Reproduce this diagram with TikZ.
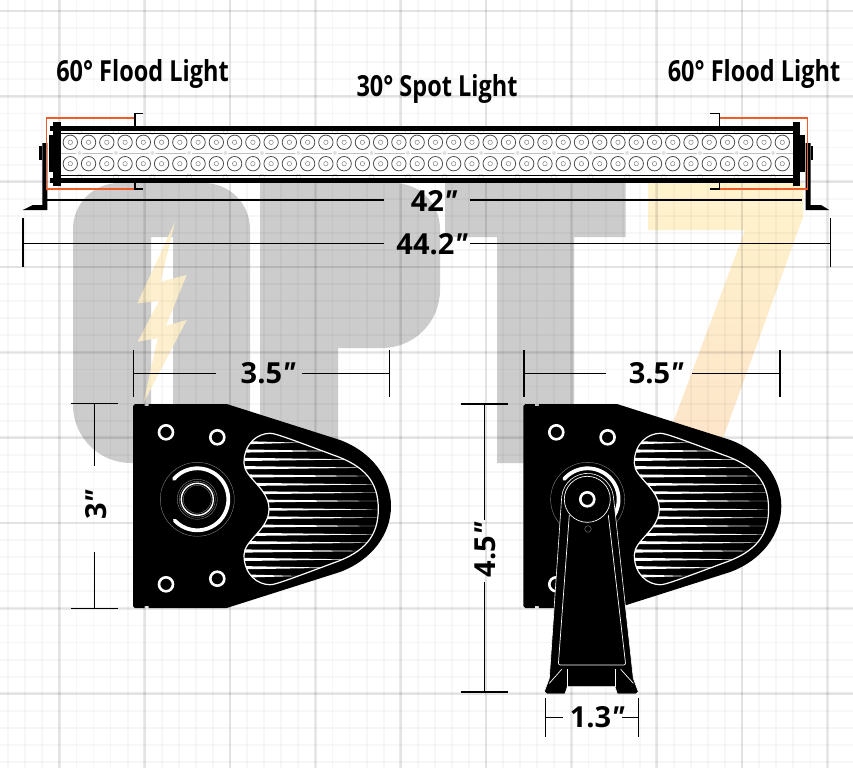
\documentclass[tikz,border=0pt]{standalone}
\usepackage{fontspec}
\setmainfont{Open Sans}
\newfontfamily\headfont[FakeStretch=0.81]{Open Sans}
\definecolor{logogray}{HTML}{CCCCCC}
\definecolor{beamred}{HTML}{F15A29}
\definecolor{boltcream}{HTML}{FEEFC8}
\definecolor{seventop}{HTML}{FFF3CC}
\definecolor{sevenlow}{HTML}{FDE4CA}
\newcommand{\inch}{{\itshape ″}}
\tikzset{
  headlabel/.style={font=\headfont\bfseries\fontsize{29}{30}\selectfont, inner sep=0pt},
  sizelabel/.style={font=\bfseries\fontsize{29}{30}\selectfont, inner sep=0pt},
  sizeline/.style={black, line width=1.2pt},
  beamline/.style={beamred, line width=1.5pt},
  ring/.style={white, line width=2.6pt, fill=black},
  hairline/.style={gray, line width=0.4pt},
  plate/.pic={
    % plate outline
    \fill[black] (135,404) -- (144.5,404) -- (144.5,406) -- (148.5,406) -- (148.5,404) -- (226.7,404) -- (340,440)
      .. controls (372,452) and (391,478) .. (391,506)
      .. controls (391,534) and (372,560) .. (340,572)
      -- (226.7,608) -- (148.5,608) -- (148.5,606) -- (144.5,606) -- (144.5,608) -- (135,608)
      -- (133,606) -- (133,406) -- cycle;
    % mounting holes
    \draw[ring] (166,432.3) circle (7pt);
    \draw[ring] (217.3,437.3) circle (7pt);
    \draw[ring] (166,584.3) circle (7pt);
    \draw[ring] (217.3,578.7) circle (7pt);
    % slot and hub
    \draw[hairline] (197.3,499.3) circle (37pt);
    \draw[white, line width=3.8pt, line cap=round] (197.3,499.3) ++(139:31pt) arc[start angle=139, end angle=-137, radius=31pt];
    \draw[hairline] (197.3,499.3) circle (20pt);
    \draw[hairline] (197.3,499.3) circle (18pt);
    \draw[white, line width=1.4pt] (197.3,499.3) circle (16pt);
    \draw[hairline] (197.3,499.3) circle (14pt);
    % fins
    \begin{scope}
      \clip (270,433.3) .. controls (275,433.3) and (285,437) .. (333.3,455)
        .. controls (365,466) and (378.3,482) .. (378.3,509)
        .. controls (378.3,536) and (365,552) .. (333.3,563)
        .. controls (285,581) and (275,584.7) .. (270,584.7)
        .. controls (258,584.7) and (244,575) .. (244,555)
        .. controls (244,540) and (269,530) .. (269,509)
        .. controls (269,488) and (244,478) .. (244,463)
        .. controls (244,443) and (258,433.3) .. (270,433.3) -- cycle;
      \foreach \fy/\fx in {442.7/300,451/335,459.4/355,467.7/372,476/378,484.4/380,492.7/380,501/380,509.4/380,517.7/380,526/380,534.4/380,542.7/378,551/372,559.4/355,567.7/335,576/300}
        \fill[white] (244,\fy-1.6) -- (\fx,\fy) -- (244,\fy+1.6) -- cycle;
    \end{scope}
    \draw[white, line width=1.2pt] (270,433.3) .. controls (275,433.3) and (285,437) .. (333.3,455)
      .. controls (365,466) and (378.3,482) .. (378.3,509)
      .. controls (378.3,536) and (365,552) .. (333.3,563)
      .. controls (285,581) and (275,584.7) .. (270,584.7)
      .. controls (258,584.7) and (244,575) .. (244,555)
      .. controls (244,540) and (269,530) .. (269,509)
      .. controls (269,488) and (244,478) .. (244,463)
      .. controls (244,443) and (258,433.3) .. (270,433.3) -- cycle;
  }
}
\begin{document}
\begin{tikzpicture}[x=1pt,y=-1pt]
\useasboundingbox (0,0) rectangle (853,768);
\fill[white] (0,0) rectangle (853,768);
% logo
\fill[logogray, even odd rule] (73,300) [rounded corners=46pt] -- (73,183) -- (250,183) [rounded corners=58pt] -- (250,463) -- (73,463) [sharp corners] -- (73,300)
  (151,237) rectangle (173,420);
\fill[logogray] (260,463) -- (260,183) [rounded corners=46pt] -- (440,183) [rounded corners=58pt] -- (440,348) [sharp corners] -- (338,348) -- (338,463) -- cycle;
\fill[logogray] (445,183) -- (625.7,183) -- (625.7,237) -- (574,237) -- (574,463) -- (497,463) -- (497,237) -- (445,237) -- cycle;
\shade[top color=seventop, bottom color=sevenlow] (648,183) -- (803,183) -- (803,217) -- (714,463) -- (658,463) -- (745,230) -- (648,230) -- cycle;
\fill[boltcream, opacity=0.88] (175,221.7) -- (160.7,281.7) -- (186.7,275) -- (166,325.7) -- (186.7,320) -- (143.3,403.3) -- (157.7,338.3) -- (137.7,341.7) -- (159,301) -- (137.3,303.3) -- cycle;
% grid
\foreach \k in {0,...,50} {
  \draw[black, opacity=0.03, line width=1.8pt] ({-26+17.07*\k},0) -- ({-26+17.07*\k},768);
  \draw[black, opacity=0.03, line width=1.8pt] (0,{11+17.07*\k}) -- (853,{11+17.07*\k});
}
\foreach \k in {0,...,10} {
  \draw[black, opacity=0.08, line width=2.5pt] ({-26+85.33*\k},0) -- ({-26+85.33*\k},768);
  \draw[black, opacity=0.08, line width=2.5pt] (0,{11+85.33*\k}) -- (853,{11+85.33*\k});
}
% light bar
\fill[white] (61,131) rectangle (793,178.3);
\foreach \k in {0,...,19} {
  \draw[gray!40, line width=0.5pt] ({79.4+36.51*\k},132) circle (2.5pt);
  \draw[gray!40, line width=0.5pt] ({79.4+36.51*\k},176.5) circle (2.5pt);
}
\fill[black] (50,125.7) rectangle (800,131);
\fill[black] (50,178.3) rectangle (800,183.3);
\draw[black, line width=0.8pt] (61,133) -- (793,133);
\draw[black, line width=0.8pt] (61,175.5) -- (793,175.5);
\draw[gray!50, line width=0.5pt] (61,153) -- (793,153);
\foreach \k in {0,...,19}
  \draw[white, fill=gray!25, line width=1pt] ({79.4+36.51*\k},153) circle (2.6pt);
\foreach \k in {0,...,39} {
  \draw[black!70, line width=0.8pt] ({70.3+18.256*\k},142.3) circle (7.2pt);
  \draw[black!50, line width=0.5pt] ({70.3+18.256*\k},142.3) circle (2.2pt);
  \draw[black!70, line width=0.8pt] ({70.3+18.256*\k},163.7) circle (7.2pt);
  \draw[black!50, line width=0.5pt] ({70.3+18.256*\k},163.7) circle (2.2pt);
}
% end caps and L brackets
\fill[black] (53.3,121.7) rectangle (61,185.7);
\fill[black] (49,135) rectangle (53.3,171.7);
\fill[black] (792.7,121.7) rectangle (800,185.7);
\fill[black] (800,135) rectangle (805,171.7);
\fill[black] (42.3,143) -- (47.3,143) -- (47.3,210) -- (22.7,210) -- (33,205) -- (42.3,205) -- cycle;
\fill[black] (39,146) rectangle (42.3,160);
\fill[black] (805.7,143) -- (810.7,143) -- (810.7,205) -- (821,205) -- (829.3,210) -- (805.7,210) -- cycle;
\fill[black] (810.7,146) rectangle (813.3,160);
% beam zones
\draw[beamline] (135,118) -- (46.5,118) -- (46.5,189) -- (135,189);
\draw[beamline] (719.5,118) -- (807.5,118) -- (807.5,189) -- (719.5,189);
\draw[sizeline] (143,113.5) -- (135,113.5) -- (135,125.7);
\draw[sizeline] (143,189) -- (135,189) -- (135,183.3);
\draw[sizeline] (710,113.5) -- (719.5,113.5) -- (719.5,125.7);
\draw[sizeline] (710,189) -- (719.5,189) -- (719.5,183.3);
% side views
\pic at (0,0) {plate};
\pic at (390.3,0) {plate};
% arm
\draw[white, fill=black, line width=0.6pt] (561.7,496.7) arc[start angle=174, end angle=6, radius=26pt]
  -- (633.3,678.3) -- (638.3,691.7) -- (636,694) -- (617.3,694) -- (615,686.7) -- (567.3,686.7) -- (565,694) -- (546.7,694) -- (544.3,691.7) -- (549.3,678.3) -- cycle;
\draw[white, line width=0.7pt, rounded corners=2pt] (569.3,515) -- (558.3,665) -- (625.7,665) -- (608.3,515);
\draw[white, fill=black, line width=0.7pt] (587.3,499.3) circle (23pt);
\draw[ring] (587.3,499.3) circle (7pt);
\draw[hairline] (588,529) circle (3.3pt);
\draw[white, line width=0.7pt] (567.3,669.3) -- (567.3,686.7);
\draw[white, line width=0.7pt] (615,669.3) -- (615,686.7);
\draw[white, line width=0.7pt] (561.7,669.3) -- (549.3,683.3);
\draw[white, line width=0.7pt] (620.7,669.3) -- (633.3,683.3);
% labels
\node[headlabel] (floodL) at (142.5,73.5) {60° Flood Light};
\node[headlabel] (spot) at (437,88.5) {30° Spot Light};
\node[headlabel] (floodR) at (754,73.5) {60° Flood Light};
\node[sizelabel] (lenA) at (434,201) {42\inch};
\node[sizelabel] (lenB) at (432,244) {44.2\inch};
\node[sizelabel] (deepA) at (268,373) {3.5\inch};
\node[sizelabel] (deepB) at (656,373) {3.5\inch};
\node[sizelabel, rotate=90] (highA) at (96,505) {3\inch};
\node[sizelabel, rotate=90] (highB) at (485,550) {4.5\inch};
\node[sizelabel] (wide) at (597,717) {1.3\inch};
% dimension lines
\coordinate (lenAa) at (47.3,200);
\coordinate (lenAb) at (384,200);
\coordinate (lenAc) at (470,200);
\coordinate (lenAd) at (801.7,200);
\draw[sizeline] (lenAa) -- (lenAb);
\draw[sizeline] (lenAc) -- (lenAd);
\coordinate (lenBa) at (23,243.5);
\coordinate (lenBb) at (384,243.5);
\coordinate (lenBc) at (470,243.5);
\coordinate (lenBd) at (830.5,243.5);
\draw[sizeline] (23,218) -- (23,266.7);
\draw[sizeline] (830.5,218) -- (830.5,266.7);
\draw[sizeline] (lenBa) -- (lenBb);
\draw[sizeline] (lenBc) -- (lenBd);
\coordinate (deepAa) at (133.5,373.5);
\coordinate (deepAb) at (216,373.5);
\coordinate (deepAc) at (301.7,373.5);
\coordinate (deepAd) at (389.5,373.5);
\draw[sizeline] (133.5,350) -- (133.5,396.7);
\draw[sizeline] (389.5,350) -- (389.5,396.7);
\draw[sizeline] (deepAa) -- (deepAb);
\draw[sizeline] (deepAc) -- (deepAd);
\coordinate (deepBa) at (524,373.5);
\coordinate (deepBb) at (606,373.5);
\coordinate (deepBc) at (691.7,373.5);
\coordinate (deepBd) at (780,373.5);
\draw[sizeline] (524,350) -- (524,396.7);
\draw[sizeline] (780,350) -- (780,396.7);
\draw[sizeline] (deepBa) -- (deepBb);
\draw[sizeline] (deepBc) -- (deepBd);
\coordinate (highAa) at (94.5,403.5);
\coordinate (highAb) at (94.5,466);
\coordinate (highAc) at (94.5,551.7);
\coordinate (highAd) at (94.5,608.5);
\draw[sizeline] (70.7,403.5) -- (118,403.5);
\draw[sizeline] (70.7,608.5) -- (118,608.5);
\draw[sizeline] (highAa) -- (highAb);
\draw[sizeline] (highAc) -- (highAd);
\coordinate (highBa) at (484.5,404);
\coordinate (highBb) at (484.5,520);
\coordinate (highBc) at (484.5,582);
\coordinate (highBd) at (484.5,692);
\draw[sizeline] (461,404) -- (508,404);
\draw[sizeline] (461,692) -- (508,692);
\draw[sizeline] (highBa) -- (highBb);
\draw[sizeline] (highBc) -- (highBd);
\coordinate (widea) at (545.5,717.5);
\coordinate (wideb) at (562.7,717.5);
\coordinate (widec) at (622.3,717.5);
\coordinate (wided) at (638.5,717.5);
\draw[sizeline] (545.5,698.3) -- (545.5,736.7);
\draw[sizeline] (638.5,698.3) -- (638.5,736.7);
\draw[sizeline] (widea) -- (wideb);
\draw[sizeline] (widec) -- (wided);
\end{tikzpicture}
\end{document}
